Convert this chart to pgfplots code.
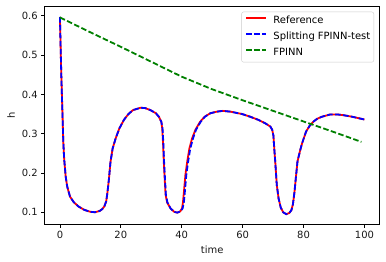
\documentclass[border=0pt]{standalone}
\usepackage{pgfplots}
\pgfplotsset{compat=1.18}
\usepackage{fontspec}
\setmainfont{DejaVu Sans}
\definecolor{mplgreen}{rgb}{0,0.5,0}
\begin{document}
\begin{tikzpicture}
\useasboundingbox (-44.7bp,-38bp) rectangle (341.3bp,224bp);
\begin{axis}[
  at={(0,0)}, anchor=south west,
  scale only axis, width=335bp, height=218bp,
  xmin=-5, xmax=105, ymin=0.07, ymax=0.625,
  xtick={0,20,40,60,80,100},
  ytick={0.1,0.2,0.3,0.4,0.5,0.6},
  tick align=outside, major tick length=3.5bp,
  tick style={black, line width=0.8bp},
  axis line style={line width=0.8bp},
  xtick pos=bottom, ytick pos=left,
  /pgf/number format/assume math mode=true,
  ticklabel style={font=\fontsize{10}{12}\selectfont, text=black!90},
  yticklabel style={/pgf/number format/fixed, /pgf/number format/precision=1, /pgf/number format/fixed zerofill},
  xlabel={time}, ylabel={h},
  every axis x label/.style={at={(axis description cs:0.5,0)}, anchor=center, yshift=-26bp, font=\fontsize{10}{12}\selectfont, text=black!90},
  every axis y label/.style={at={(axis description cs:0,0.5)}, anchor=center, xshift=-33.7bp, rotate=90, font=\fontsize{10}{12}\selectfont, text=black!90},
  legend cell align=left,
  legend style={at={(rel axis cs:1,1)}, anchor=north east, xshift=-5.7bp, yshift=-5.7bp,
    draw=black!20, rounded corners=2bp, fill=white, fill opacity=0.8, text opacity=1, draw opacity=1,
    font=\fontsize{10}{12}\selectfont, inner xsep=3.5bp, inner ysep=4.5bp, row sep=5.8bp, column sep=6.5bp,
    nodes={inner sep=0bp, text height=7.5bp, text depth=2.4bp}},
]
\addplot[red, line width=1.8bp, legend image code/.code={\draw[red, line width=1.8bp] (0bp,3bp) -- (20bp,3bp);}] coordinates {
(0,0.597)(0.2,0.53)(0.45,0.45)(0.8,0.36)(1.1,0.28)(1.4,0.235)(1.9,0.19)(2.4,0.165)(3.3,0.14)(4.5,0.126)(6,0.115)(8,0.106)(10,0.101)(11.5,0.100)(13,0.103)(13.9,0.108)(14.6,0.115)(15.2,0.128)(15.6,0.150)(16.1,0.185)(16.6,0.228)(17.3,0.262)(18.3,0.288)(19.5,0.313)(21,0.335)(22.5,0.350)(24,0.360)(26.5,0.366)(28,0.365)(29.7,0.360)(31.5,0.352)(32.5,0.343)(33.3,0.330)(33.6,0.313)(33.9,0.27)(34.1,0.229)(34.4,0.185)(34.7,0.144)(35.2,0.125)(36.3,0.110)(37.5,0.101)(38.5,0.099)(39.5,0.102)(40.1,0.110)(40.4,0.125)(40.7,0.150)(41.2,0.195)(41.8,0.229)(42.5,0.262)(43.4,0.288)(44.5,0.310)(46,0.330)(47.5,0.343)(49.4,0.352)(51.5,0.356)(53.5,0.358)(56,0.356)(59.8,0.350)(62.5,0.343)(65.2,0.335)(67.5,0.326)(69.1,0.318)(69.7,0.310)(70.1,0.295)(70.4,0.26)(70.7,0.229)(71.2,0.17)(71.8,0.135)(72.5,0.112)(73.3,0.100)(74.3,0.095)(75.3,0.098)(76,0.105)(76.5,0.120)(77,0.150)(77.5,0.190)(78,0.229)(78.8,0.255)(79.5,0.275)(80.8,0.305)(82,0.320)(83.3,0.331)(84.5,0.338)(86,0.343)(88.8,0.349)(91,0.349)(93.1,0.347)(96,0.343)(100,0.336)
};
\addlegendentry{Reference}
\addplot[blue, line width=1.8bp, dash pattern=on 5.55bp off 2.4bp, legend image code/.code={\draw[blue, line width=1.8bp, dash pattern=on 5.55bp off 2.4bp] (0bp,3bp) -- (20bp,3bp);}] coordinates {
(0,0.597)(0.2,0.53)(0.45,0.45)(0.8,0.36)(1.1,0.28)(1.4,0.235)(1.9,0.19)(2.4,0.165)(3.3,0.14)(4.5,0.126)(6,0.115)(8,0.106)(10,0.101)(11.5,0.100)(13,0.103)(13.9,0.108)(14.6,0.115)(15.2,0.128)(15.6,0.150)(16.1,0.185)(16.6,0.228)(17.3,0.262)(18.3,0.288)(19.5,0.313)(21,0.335)(22.5,0.350)(24,0.360)(26.5,0.366)(28,0.365)(29.7,0.360)(31.5,0.352)(32.5,0.343)(33.3,0.330)(33.7,0.313)(34.0,0.27)(34.2,0.229)(34.5,0.185)(34.8,0.144)(35.3,0.125)(36.3,0.110)(37.5,0.101)(38.5,0.099)(39.6,0.102)(40.3,0.110)(40.7,0.125)(41.0,0.150)(41.5,0.195)(42.1,0.229)(42.8,0.262)(43.7,0.288)(44.7,0.310)(46.2,0.330)(47.6,0.343)(49.4,0.352)(51.5,0.356)(53.5,0.358)(56,0.356)(59.8,0.350)(62.5,0.343)(65.2,0.335)(67.5,0.326)(69.1,0.318)(69.7,0.310)(70.1,0.295)(70.4,0.26)(70.7,0.229)(71.2,0.17)(71.8,0.135)(72.5,0.112)(73.3,0.100)(74.3,0.095)(75.3,0.098)(76,0.105)(76.5,0.120)(77,0.150)(77.5,0.190)(78,0.229)(78.8,0.255)(79.5,0.275)(80.8,0.305)(82,0.320)(83.3,0.331)(84.5,0.338)(86,0.343)(88.8,0.349)(91,0.349)(93.1,0.347)(96,0.343)(100,0.336)
};
\addlegendentry{Splitting FPINN-test}
\addplot[mplgreen, line width=1.8bp, dash pattern=on 5.55bp off 2.4bp, legend image code/.code={\draw[mplgreen, line width=1.8bp, dash pattern=on 5.55bp off 2.4bp] (0bp,3bp) -- (20bp,3bp);}] coordinates {
(0,0.596)(10,0.558)(20,0.521)(30,0.483)(40,0.445)(50,0.413)(60,0.385)(70,0.358)(80,0.331)(90,0.304)(99,0.279)
};
\addlegendentry{FPINN}
\end{axis}
\end{tikzpicture}
\end{document}
